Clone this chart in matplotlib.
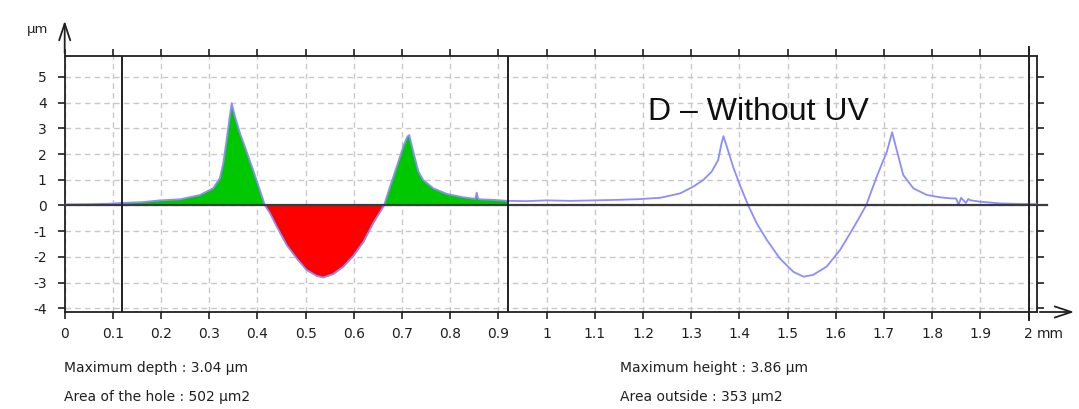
import matplotlib
matplotlib.use("Agg")
import matplotlib.pyplot as plt
from matplotlib.patches import FancyArrowPatch
import numpy as np

plt.rcParams['font.family'] = 'DejaVu Sans'
plt.rcParams['axes.unicode_minus'] = False

# profile (x in mm, height in um)
profile_x = [0.0, 0.05, 0.094, 0.118, 0.16, 0.198, 0.239, 0.281, 0.308, 0.322,
             0.329, 0.336, 0.3416, 0.3465, 0.3534, 0.3638, 0.3777, 0.391, 0.405, 0.4157,
             0.426, 0.44, 0.4607, 0.4814, 0.502, 0.523, 0.5366, 0.557, 0.578, 0.599,
             0.62, 0.64, 0.6626, 0.675, 0.689, 0.7026, 0.711, 0.715, 0.7234, 0.734,
             0.744, 0.765, 0.793, 0.827, 0.852, 0.855, 0.858, 0.862, 0.89, 0.92,
             0.96, 1.0, 1.05, 1.1, 1.15, 1.194, 1.236, 1.277, 1.304, 1.325,
             1.3426, 1.356, 1.363, 1.367, 1.374, 1.387, 1.401, 1.4185, 1.436, 1.457,
             1.484, 1.512, 1.533, 1.553, 1.581, 1.609, 1.636, 1.663, 1.685, 1.706,
             1.717, 1.7265, 1.740, 1.761, 1.789, 1.816, 1.837, 1.85, 1.855, 1.86,
             1.87, 1.875, 1.88, 1.899, 1.941, 1.98, 2.018]
profile_z = [0.04, 0.05, 0.07, 0.1, 0.13, 0.2, 0.24, 0.41, 0.67, 1.06,
             1.64, 2.55, 3.33, 3.98, 3.46, 2.81, 2.09, 1.38, 0.60, 0.0,
             -0.30, -0.82, -1.54, -2.06, -2.51, -2.74, -2.80, -2.67, -2.38, -1.96,
             -1.41, -0.69, 0.0, 0.73, 1.51, 2.29, 2.68, 2.74, 2.09, 1.32,
             0.99, 0.67, 0.45, 0.32, 0.26, 0.5, 0.26, 0.24, 0.22, 0.18,
             0.17, 0.2, 0.18, 0.2, 0.22, 0.25, 0.3, 0.47, 0.73, 0.99,
             1.32, 1.77, 2.42, 2.70, 2.29, 1.51, 0.80, 0.0, -0.69, -1.34,
             -2.06, -2.58, -2.77, -2.70, -2.38, -1.73, -0.89, 0.0, 1.12, 2.09,
             2.85, 2.16, 1.19, 0.67, 0.41, 0.32, 0.28, 0.27, 0.02, 0.3,
             0.1, 0.25, 0.2, 0.15, 0.08, 0.06, 0.05]

# cursors (mm)
cursor_left = 0.118
cursor_mid = 0.92
cursor_right = 2.0

x_ticks = [round(0.1 * i, 1) for i in range(21)]
x_labels = ['0', '0.1', '0.2', '0.3', '0.4', '0.5', '0.6', '0.7', '0.8', '0.9',
            '1', '1.1', '1.2', '1.3', '1.4', '1.5', '1.6', '1.7', '1.8', '1.9', '2']
y_ticks = [-4, -3, -2, -1, 0, 1, 2, 3, 4, 5]
y_labels = ['-4', '-3', '-2', '-1', '0', '1', '2', '3', '4', '5']

title = 'D \u2013 Without UV'
stats_left = ['Maximum depth : 3.04 \u00b5m', 'Area of the hole : 502 \u00b5m2']
stats_right = ['Maximum height : 3.86 \u00b5m', 'Area outside : 353 \u00b5m2']

W, H = 1079, 409
fig = plt.figure(figsize=(W / 100, H / 100), dpi=100)


def fx(px):
    return px / W


def fy(py):
    return 1 - py / H


ax = fig.add_axes([fx(64.7), fy(312), fx(1037) - fx(64.7), fy(56) - fy(312)])
ax.set_xlim(0, (1037 - 64.7) / 481.9)
ax.set_ylim(-4.144, 5.817)

x = np.array(profile_x)
z = np.array(profile_z)
inside = (x >= cursor_left) & (x <= cursor_mid)
xi, zi = x[inside], z[inside]
ax.fill_between(xi, zi, 0, where=zi >= 0, interpolate=True,
                color='#00c800', lw=0, zorder=2)
ax.fill_between(xi, zi, 0, where=zi <= 0, interpolate=True,
                color='#ff0000', lw=0, zorder=2)
ax.plot(x, z, color='#8c8cff', lw=1.3, zorder=3)

# zero line, a bit past the frame
ax.plot([0, 2.038], [0, 0], color='#3c3c3c', lw=1.6, zorder=4, clip_on=False)

# cursors
ylo, yhi = ax.get_ylim()
ax.plot([cursor_left, cursor_left], [ylo, yhi], color='#202020', lw=1.4, zorder=5)
ax.plot([cursor_mid, cursor_mid], [ylo, yhi], color='#202020', lw=1.4, zorder=5)
ax.plot([cursor_right, cursor_right], [-4.455, 6.17], color='#202020', lw=1.4,
        zorder=5, clip_on=False)

ax.set_xticks(x_ticks)
ax.set_xticklabels(x_labels)
ax.set_yticks(y_ticks)
ax.set_yticklabels(y_labels)
ax.grid(True, color='#c8c8c8', linestyle=(0, (4, 3)), lw=1, zorder=1)
ax.set_axisbelow(True)
ax.tick_params(axis='x', direction='out', length=5, width=1.2, top=True,
               labeltop=False, labelsize=10, pad=6, colors='#202020')
ax.tick_params(axis='y', direction='out', length=5, width=1.2, right=True,
               labelright=False, labelsize=10, pad=8, colors='#202020')
for s in ax.spines.values():
    s.set_color('#202020')
    s.set_linewidth(1.3)

# axis arrows
arrow = dict(arrowstyle='->,head_length=1.2,head_width=0.4', color='#202020',
             lw=1.3, mutation_scale=10, transform=fig.transFigure)
fig.add_artist(FancyArrowPatch((fx(1037), fy(312)), (fx(1077), fy(312)), **arrow))
fig.add_artist(FancyArrowPatch((fx(64.7), fy(56)), (fx(64.7), fy(18)), **arrow))

fig.text(fx(27), fy(29), '\u00b5m', fontsize=9.5, va='center', color='#202020')
fig.text(fx(1037), fy(334), 'mm', fontsize=10, va='center', color='#202020')

fig.text(fx(648), fy(120), title, fontsize=23, family='Liberation Sans',
         va='baseline', color='#101010')

for i, s in enumerate(stats_left):
    fig.text(fx(64), fy(368 + 29 * i), s, fontsize=10, va='center', color='#202020')
for i, s in enumerate(stats_right):
    fig.text(fx(620), fy(368 + 29 * i), s, fontsize=10, va='center', color='#202020')

fig.savefig('out.png', dpi=100)
